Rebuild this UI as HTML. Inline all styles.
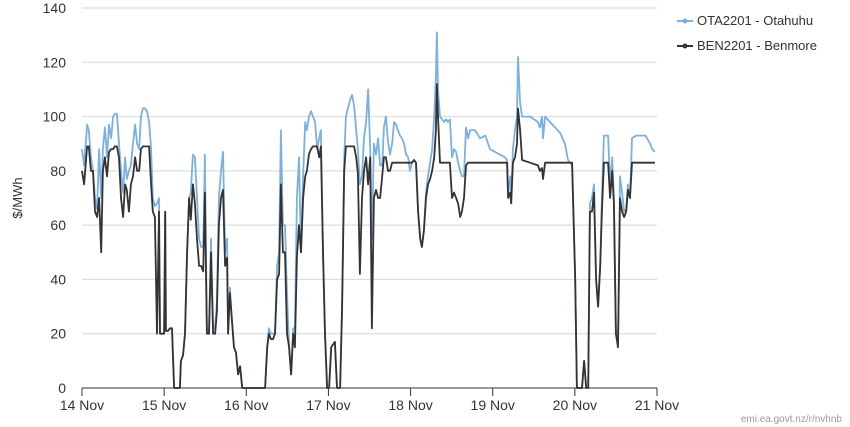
<!DOCTYPE html>
<html><head><meta charset="utf-8"><style>
body{margin:0;background:#fff;font-family:"Liberation Sans",sans-serif}
svg{display:block}
</style></head><body>
<svg id="chart" width="850" height="427">
<g id="grid"></g>
<g id="yt"></g>
<g id="xt"></g>
<text x="22" y="198" transform="rotate(-90 22 198)" text-anchor="middle" font-size="13" fill="#333">$/MWh</text>
<g id="series"></g>
<g>
<line x1="677" y1="21" x2="693" y2="21" stroke="#7cb0e0" stroke-width="2"/><circle cx="685" cy="21" r="2.5" fill="#7cb0e0"/>
<text x="697" y="25" font-size="13" fill="#333">OTA2201 - Otahuhu</text></g>
<g>
<line x1="677" y1="46" x2="693" y2="46" stroke="#333" stroke-width="2"/><circle cx="685" cy="46" r="2.5" fill="#333"/>
<text x="697" y="50" font-size="13" fill="#333">BEN2201 - Benmore</text></g>
<text x="842" y="422" text-anchor="end" font-size="10" fill="#999">emi.ea.govt.nz/r/nvhnb</text>
</svg>
<script>
const hours=[0,0.6,1.5,2,2.6,3.2,3.8,4.4,5,5.6,6.1,6.7,7.3,7.9,8.5,9.1,9.6,10.2,10.8,11.4,12,12.6,13.1,13.7,14.3,14.9,15.5,16.1,16.7,17.2,17.8,18.4,19,19.6,20.2,20.7,21.3,21.9,22.5,22.8,23.4,24,24.3,24.5,25.1,25.7,26.3,26.9,28.6,28.9,29.5,30.1,30.7,31.3,31.8,32.4,33,33.6,34.2,34.8,35.4,35.9,36.2,36.5,37.1,37.7,38.3,38.9,39.4,40,40.6,41.2,41.8,42.4,42.7,43.2,43.8,44.4,45,45.6,46.2,46.8,53.5,54.1,54.6,55.2,55.8,56.4,57,57.6,58.1,58.7,59.3,59.9,60.5,61.1,61.7,62.2,62.8,63.4,64,64.6,65.2,65.7,66.3,66.9,67.5,68.1,68.7,69.3,69.8,70.4,71,71.6,72.2,72.8,73.3,73.9,74.5,75.4,76,76.6,77.1,77.7,78.3,78.9,79.5,80.1,80.6,81.2,81.8,82.4,83,83.6,84.2,84.7,85.3,85.9,86.5,87.1,87.7,88.2,88.8,89.4,90,90.6,91.2,91.8,92.3,92.9,93.5,94.1,94.7,95.3,95.8,96.4,97,97.6,98.2,98.8,99.3,99.9,100.5,101.1,101.7,102.3,102.9,103.4,103.7,104,104.6,105.2,105.8,106.4,106.9,107.5,108.1,108.7,109.3,109.9,110.5,111,111.6,112.2,112.8,113.4,114.8,116.3,117.8,119.2,120.7,122.1,123.6,124.2,124.5,125.1,125.4,125.9,126.5,127.1,127.4,128,128.6,130.9,133.2,133.8,134.4,134.7,135.3,136.7,138.2,139.7,141.1,142,143.2,144.1,144.6,146.1,146.7,147.3,147.9,148.4,149,149.6,150.2,150.8,151.4,151.9,152.5,153.1,153.7,154.3,154.9,155.4,156,156.6,157.2,157.8,158.4,159,159.5,160.1,160.7,161.9,163.1,164.6,166,166.6,167.4];
const benValues=[80,75,89,89,80,80,65,63,70,50,80,85,78,87,88,88,89,89,85,70,63,75,73,65,75,78,85,80,80,88,89,89,89,89,75,65,63,20,65,20,20,20,65,21,21,22,22,0,0,10,12,20,50,70,62,75,68,55,45,45,43,72,45,20,20,50,20,20,28,60,70,73,45,48,20,35,25,15,13,5,8,0,0,15,20,18,18,20,40,42,75,50,50,20,15,5,20,15,48,60,50,70,78,80,86,88,89,89,89,85,89,50,20,0,0,15,16,17,0,0,30,80,89,89,89,89,89,85,79,42,70,80,85,75,85,22,70,73,70,70,78,85,85,80,80,83,83,83,83,83,83,83,83,83,83,83,84,83,65,55,52,58,70,75,77,80,85,95,112,100,83,83,83,83,83,83,70,72,70,68,63,65,70,82,83,83,83,83,83,83,83,83,83,83,70,72,68,83,85,90,103,95,84,83,82,80,81,77,83,83,83,83,83,83,83,40,0,0,10,0,0,65,65,72,40,30,45,65,83,83,83,70,80,68,20,15,70,65,63,65,73,70,83,83,83,83,83,83,83];
const otaValues=[88,82,97,95,85,80,70,66,88,70,88,96,85,97,92,100,101,101,90,80,72,85,77,80,82,90,97,90,88,100,103,103,102,98,88,70,67,68,70,20,20,20,65,21,21,22,22,0,0,10,12,20,50,70,72,86,85,70,55,52,52,86,52,22,20,55,22,22,32,70,80,87,50,55,20,37,25,15,13,5,8,0,0,15,22,20,20,20,45,50,95,60,60,35,15,5,22,22,70,85,50,78,98,95,100,102,100,98,88,92,95,50,20,0,0,15,16,17,0,0,30,85,100,103,106,108,104,95,88,75,78,92,98,110,88,55,90,86,92,82,82,96,100,91,86,90,98,97,95,93,92,90,86,85,80,83,84,83,65,55,52,58,72,78,83,88,100,115,131,110,100,99,98,99,98,99,85,88,87,83,80,78,78,96,92,95,95,92,93,88,87,86,85,84,72,78,70,88,95,100,122,105,100,100,98,96,100,92,100,98,96,94,90,84,82,40,0,0,10,0,0,68,70,75,40,30,45,70,93,93,93,75,85,70,22,16,78,72,65,66,75,70,92,93,93,93,90,88,87];
const yTicks=[0,20,40,60,80,100,120,140];
const xLabels=["14 Nov","15 Nov","16 Nov","17 Nov","18 Nov","19 Nov","20 Nov","21 Nov"];
const NS="http://www.w3.org/2000/svg";
const X0=82,X1=657,Y0=388,Y1=8;
function xs(h){return X0+h/168*(X1-X0);}
function ys(v){return Y0-v/140*(Y0-Y1);}
function mk(t,a,p){const e=document.createElementNS(NS,t);for(const k in a)e.setAttribute(k,a[k]);p.appendChild(e);return e;}
const grid=document.getElementById('grid'),yt=document.getElementById('yt'),xt=document.getElementById('xt'),ser=document.getElementById('series');
yTicks.forEach(v=>{
 const l=mk('line',{x1:X0,x2:X1,y1:ys(v),y2:ys(v),stroke:'#d8d8d8','stroke-width':1},grid);
 
 
 const t=mk('text',{x:66,y:ys(v)+5,'text-anchor':'end','font-size':14,fill:'#333'},yt);
 t.textContent=v;
 
 
});
const ax=mk('line',{x1:X0,x2:X1,y1:Y0,y2:Y0,stroke:'#333','stroke-width':1},xt);


xLabels.forEach((s,i)=>{
 const x=xs(i*24);
 const tk=mk('line',{x1:x,x2:x,y1:Y0,y2:Y0+8,stroke:'#333'},xt);
 
 
 const t=mk('text',{x:x,y:Y0+22,'text-anchor':'middle','font-size':14,fill:'#333'},xt);
 t.textContent=s;
 
 
});
function path(vals){return hours.map((h,i)=>(i?'L':'M')+xs(h).toFixed(1)+','+ys(vals[i]).toFixed(1)).join('');}
const po=mk('path',{d:path(otaValues),fill:'none',stroke:'#7cb0e0','stroke-width':1.8,'stroke-linejoin':'round'},ser);


const pb=mk('path',{d:path(benValues),fill:'none',stroke:'#333','stroke-width':1.8,'stroke-linejoin':'round'},ser);


</script>
</body></html>
